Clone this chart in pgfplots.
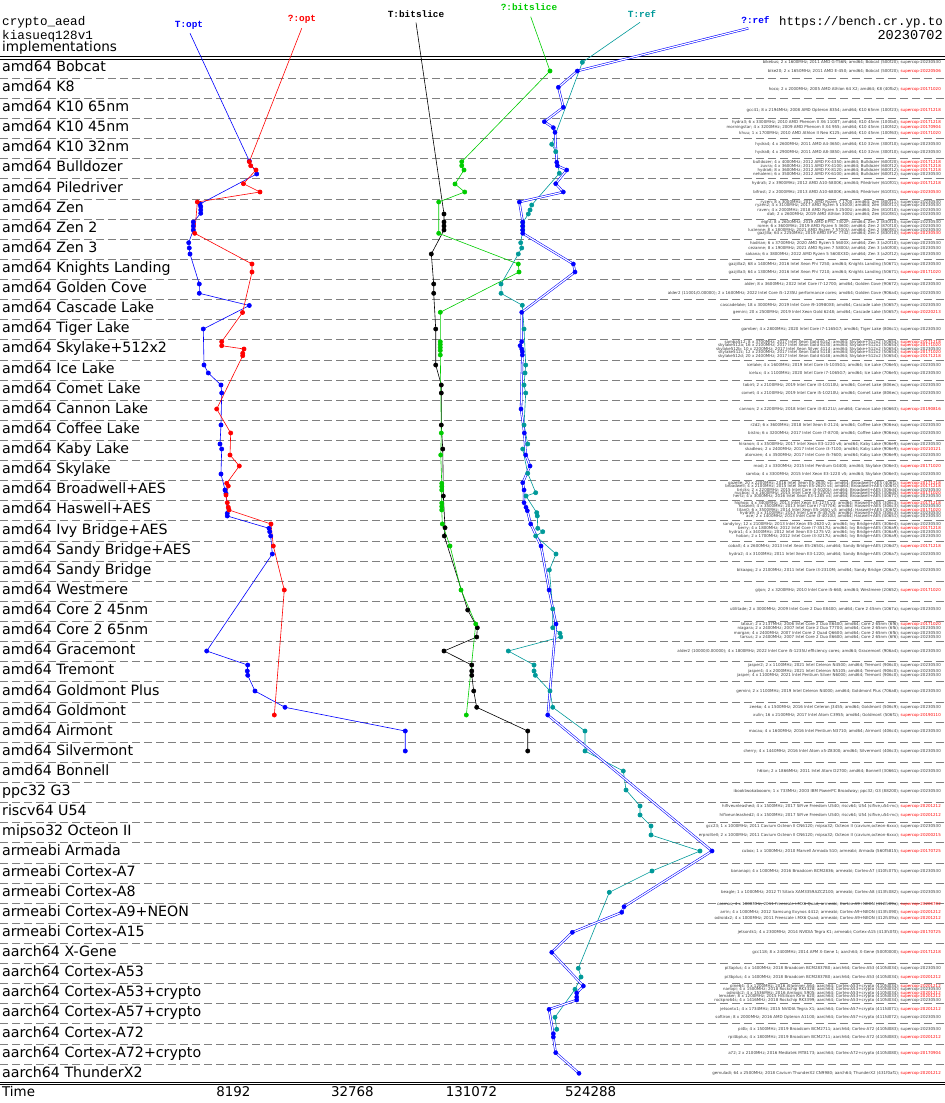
\documentclass[border=0pt]{standalone}
\usepackage{fontspec}
\setmainfont{DejaVu Sans}
\newfontfamily\cmono{Liberation Mono}
\usepackage{pgfplots}
\pgfplotsset{compat=1.18}
\definecolor{topt}{RGB}{0,0,255}
\definecolor{qopt}{RGB}{255,0,0}
\definecolor{tbit}{RGB}{0,0,0}
\definecolor{qbit}{RGB}{0,204,0}
\definecolor{tref}{RGB}{0,153,153}
\definecolor{qref}{RGB}{0,0,255}
\definecolor{dashgray}{RGB}{128,128,128}
\definecolor{mtext}{RGB}{60,60,60}
\newcommand\ml[4]{\node[anchor=base east,inner sep=0pt,font=\fontsize{4}{4}\selectfont,text=mtext] at (941,#1+1.4) {#2; \textcolor{#4}{#3}};}
\begin{document}
\begin{tikzpicture}
\begin{scope}[x=1pt,y=-1pt,shift={(0pt,1103pt)}]
% rules
\draw[black,line width=0.9pt] (0,56.7) -- (945,56.7);
\draw[black,line width=0.9pt] (0,59.2) -- (945,59.2);
\draw[black,line width=0.9pt] (0,1082.3) -- (945,1082.3);
\draw[black,line width=0.9pt] (0,1084.6) -- (945,1084.6);
\foreach \k in {0,...,49}{\draw[dashgray,line width=0.9pt,dash pattern=on 8pt off 4pt] (0,{78.3+20.12*\k}) -- (945,{78.3+20.12*\k});}
% row labels
\foreach \lab [count=\i] in {amd64 Bobcat,amd64 K8,amd64 K10 65nm,amd64 K10 45nm,amd64 K10 32nm,amd64 Bulldozer,amd64 Piledriver,amd64 Zen,amd64 Zen 2,amd64 Zen 3,amd64 Knights Landing,amd64 Golden Cove,amd64 Cascade Lake,amd64 Tiger Lake,amd64 Skylake+512x2,amd64 Ice Lake,amd64 Comet Lake,amd64 Cannon Lake,amd64 Coffee Lake,amd64 Kaby Lake,amd64 Skylake,amd64 Broadwell+AES,amd64 Haswell+AES,amd64 Ivy Bridge+AES,amd64 Sandy Bridge+AES,amd64 Sandy Bridge,amd64 Westmere,amd64 Core 2 45nm,amd64 Core 2 65nm,amd64 Gracemont,amd64 Tremont,amd64 Goldmont Plus,amd64 Goldmont,amd64 Airmont,amd64 Silvermont,amd64 Bonnell,ppc32 G3,riscv64 U54,mipso32 Octeon II,armeabi Armada,armeabi Cortex-A7,armeabi Cortex-A8,armeabi Cortex-A9+NEON,armeabi Cortex-A15,aarch64 X-Gene,aarch64 Cortex-A53,aarch64 Cortex-A53+crypto,aarch64 Cortex-A57+crypto,aarch64 Cortex-A72,aarch64 Cortex-A72+crypto,aarch64 ThunderX2}
{\node[anchor=base west,inner sep=0pt,font=\fontsize{14.2}{16}\selectfont] at (2,{71.3+20.12*(\i-1)}) {\lab};}
% header
\node[anchor=base west,inner sep=0pt,font=\cmono\fontsize{12.6}{13}\selectfont] at (2,26) {crypto\_aead};
\node[anchor=base west,inner sep=0pt,font=\cmono\fontsize{12.6}{13}\selectfont] at (2,39.5) {kiasueq128v1};
\node[anchor=base west,inner sep=0pt,font=\fontsize{13.6}{14}\selectfont] at (2,52) {implementations};
\node[anchor=base east,inner sep=0pt,font=\cmono\fontsize{12.4}{13}\selectfont] at (943,26) {https://bench.cr.yp.to};
\node[anchor=base east,inner sep=0pt,font=\cmono\fontsize{13.6}{14}\selectfont] at (943,39.5) {20230702};
\node[inner sep=0pt,font=\cmono\bfseries\fontsize{9.4}{10}\selectfont,text=topt] at (189,25.7) {T:opt};
\node[inner sep=0pt,font=\cmono\bfseries\fontsize{9.4}{10}\selectfont,text=qopt] at (302,19.3) {?:opt};
\node[inner sep=0pt,font=\cmono\bfseries\fontsize{9.4}{10}\selectfont,text=tbit] at (416,14) {T:bitslice};
\node[inner sep=0pt,font=\cmono\bfseries\fontsize{9.4}{10}\selectfont,text=qbit] at (529,7.3) {?:bitslice};
\node[inner sep=0pt,font=\cmono\bfseries\fontsize{9.4}{10}\selectfont,text=tref] at (642,14) {T:ref};
\node[inner sep=0pt,font=\cmono\bfseries\fontsize{9.4}{10}\selectfont,text=qref] at (755.5,20) {?:ref};
% x axis labels
\node[anchor=base west,inner sep=0pt,font=\fontsize{13.4}{14}\selectfont] at (2,1097) {Time};
\node[anchor=base,inner sep=0pt,font=\fontsize{13.4}{14}\selectfont] at (233.3,1097) {8192};
\node[anchor=base,inner sep=0pt,font=\fontsize{13.4}{14}\selectfont] at (352.4,1097) {32768};
\node[anchor=base,inner sep=0pt,font=\fontsize{13.4}{14}\selectfont] at (471.5,1097) {131072};
\node[anchor=base,inner sep=0pt,font=\fontsize{13.4}{14}\selectfont] at (590.6,1097) {524288};
% machine lines
\ml{62}{bikebus; 2 x 1600MHz; 2011 AMD G-T56N; amd64; Bobcat (500f20)}{supercop-20230530}{mtext}
\ml{71}{bike20; 2 x 1650MHz; 2011 AMD E-450; amd64; Bobcat (500f20)}{supercop-20220506}{qopt}
\ml{89}{hoco; 2 x 2000MHz; 2005 AMD Athlon 64 X2; amd64; K8 (40fb2)}{supercop-20171020}{qopt}
\ml{110}{gcc41; 8 x 2194MHz; 2008 AMD Opteron 8354; amd64; K10 65nm (100f23)}{supercop-20171218}{qopt}
\ml{122}{hydra3; 6 x 3300MHz; 2010 AMD Phenom II X6 1100T; amd64; K10 45nm (100fa0)}{supercop-20171218}{qopt}
\ml{127.5}{morningstar; 4 x 3200MHz; 2009 AMD Phenom II X4 955; amd64; K10 45nm (100f42)}{supercop-20170904}{qopt}
\ml{133}{khuu; 1 x 1700MHz; 2010 AMD Athlon II Neo K125; amd64; K10 45nm (100f63)}{supercop-20171020}{qopt}
\ml{144}{hydra4; 4 x 2600MHz; 2011 AMD A4-3650; amd64; K10 32nm (300f10)}{supercop-20230530}{mtext}
\ml{152}{hydra8; 4 x 2900MHz; 2011 AMD A8-3850; amd64; K10 32nm (300f10)}{supercop-20230530}{mtext}
\ml{162}{bulldozer; 4 x 4000MHz; 2012 AMD FX-4350; amd64; Bulldozer (600f20)}{supercop-20171218}{qopt}
\ml{166}{zuvra; 4 x 3600MHz; 2011 AMD FX-4100; amd64; Bulldozer (600f12)}{supercop-20171218}{qopt}
\ml{170}{hydra6; 8 x 3600MHz; 2012 AMD FX-8120; amd64; Bulldozer (600f12)}{supercop-20171218}{qopt}
\ml{174}{nehalemi; 6 x 3500MHz; 2012 AMD FX-6100; amd64; Bulldozer (600f12)}{supercop-20230530}{mtext}
\ml{183}{hydra5; 2 x 3900MHz; 2012 AMD A10-5800K; amd64; Piledriver (610f01)}{supercop-20171218}{qopt}
\ml{192}{bifrost; 2 x 2000MHz; 2013 AMD A10-6800K; amd64; Piledriver (610f31)}{supercop-20230530}{qopt}
\ml{202}{ryzen; 8 x 3000MHz; 2017 AMD Ryzen 7 1700; amd64; Zen (800f11)}{supercop-20230530}{mtext}
\ml{205.5}{ryzen2; 4 x 3100MHz; 2017 AMD Ryzen 5 1500X; amd64; Zen (800f11)}{supercop-20230530}{mtext}
\ml{210}{raven; 4 x 2000MHz; 2018 AMD Ryzen 5 2500U; amd64; Zen (810f10)}{supercop-20230530}{mtext}
\ml{214}{dali; 2 x 2600MHz; 2019 AMD Athlon 300U; amd64; Zen (810f81)}{supercop-20230530}{mtext}
\ml{222}{eight; 8 x 2600MHz; 2019 AMD EPYC 7302P; amd64; Zen 2 (830f10)}{supercop-20230530}{mtext}
\ml{226}{rome; 6 x 3600MHz; 2019 AMD Ryzen 5 3600; amd64; Zen 2 (870f10)}{supercop-20230530}{mtext}
\ml{230}{lucienne; 8 x 1800MHz; 2021 AMD Ryzen 7 5700U; amd64; Zen 2 (860f81)}{supercop-20230530}{mtext}
\ml{233.5}{gazjilla; 64 x 2250MHz; 2019 AMD EPYC 7742; amd64; Zen 2 (830f10)}{supercop-20230530}{qopt}
\ml{243}{hadrian; 6 x 3700MHz; 2020 AMD Ryzen 5 5600X; amd64; Zen 3 (a20f10)}{supercop-20230530}{mtext}
\ml{248}{cezanne; 8 x 1900MHz; 2021 AMD Ryzen 7 5800U; amd64; Zen 3 (a50f00)}{supercop-20230530}{mtext}
\ml{254}{sakana; 6 x 3800MHz; 2022 AMD Ryzen 5 5600X3D; amd64; Zen 3 (a20f12)}{supercop-20230530}{mtext}
\ml{264}{gazjilla2; 68 x 1400MHz; 2016 Intel Xeon Phi 7250; amd64; Knights Landing (50671)}{supercop-20230530}{mtext}
\ml{272}{gazjilla3; 64 x 1300MHz; 2016 Intel Xeon Phi 7210; amd64; Knights Landing (50671)}{supercop-20171020}{qopt}
\ml{284}{alder; 8 x 3600MHz; 2022 Intel Core i7-12700; amd64; Golden Cove (90672)}{supercop-20230530}{mtext}
\ml{293}{alder2 (11001/0.00000); 2 x 1600MHz; 2022 Intel Core i5-1235U performance cores; amd64; Golden Cove (906a4)}{supercop-20230530}{mtext}
\ml{305}{cascadelake; 18 x 3000MHz; 2019 Intel Core i9-10980XE; amd64; Cascade Lake (50657)}{supercop-20230530}{mtext}
\ml{312}{gemini; 20 x 2500MHz; 2019 Intel Xeon Gold 6248; amd64; Cascade Lake (50657)}{supercop-20220213}{qopt}
\ml{329}{gamber; 4 x 2800MHz; 2020 Intel Core i7-1165G7; amd64; Tiger Lake (806c1)}{supercop-20230530}{mtext}
\ml{341.7}{samba512; 8 x 3700MHz; 2017 Intel Xeon Gold 6142; amd64; Skylake+512x2 (50654)}{supercop-20171218}{qopt}
\ml{345.5}{skylake512a; 16 x 2100MHz; 2017 Intel Xeon Gold 6130; amd64; Skylake+512x2 (50654)}{supercop-20171020}{qopt}
\ml{349}{skylake512b; 10 x 2200MHz; 2017 Intel Xeon Silver 4114; amd64; Skylake+512x2 (50654)}{supercop-20230530}{mtext}
\ml{352.3}{skylake512c; 12 x 2300MHz; 2017 Intel Xeon Gold 5118; amd64; Skylake+512x2 (50654)}{supercop-20171020}{qopt}
\ml{355.7}{skylake512d; 20 x 2400MHz; 2017 Intel Xeon Gold 6148; amd64; Skylake+512x2 (50654)}{supercop-20171218}{qopt}
\ml{365}{icelake; 4 x 1600MHz; 2019 Intel Core i5-1035G1; amd64; Ice Lake (706e5)}{supercop-20230530}{mtext}
\ml{373}{icelux; 4 x 1100MHz; 2020 Intel Core i7-1065G7; amd64; Ice Lake (706e5)}{supercop-20230530}{mtext}
\ml{385}{tobirt; 2 x 2100MHz; 2019 Intel Core i3-10110U; amd64; Comet Lake (806ec)}{supercop-20230530}{mtext}
\ml{393}{comet; 4 x 2100MHz; 2019 Intel Core i5-10210U; amd64; Comet Lake (806ec)}{supercop-20230530}{mtext}
\ml{409}{cannon; 2 x 2200MHz; 2018 Intel Core i3-8121U; amd64; Cannon Lake (60663)}{supercop-20190816}{qopt}
\ml{425}{r2d2; 6 x 3600MHz; 2018 Intel Xeon E-2124; amd64; Coffee Lake (906ea)}{supercop-20230530}{mtext}
\ml{433}{bistro; 6 x 3200MHz; 2017 Intel Core i7-8700; amd64; Coffee Lake (906ea)}{supercop-20230530}{mtext}
\ml{444}{hiranon; 4 x 3500MHz; 2017 Intel Xeon E3-1220 v6; amd64; Kaby Lake (906e9)}{supercop-20230530}{mtext}
\ml{449}{skadleos; 2 x 2400MHz; 2017 Intel Core i3-7100; amd64; Kaby Lake (906e9)}{supercop-20210121}{qopt}
\ml{455}{atomzen; 4 x 3500MHz; 2017 Intel Core i5-7600; amd64; Kaby Lake (906e9)}{supercop-20230530}{mtext}
\ml{466}{mod; 2 x 3300MHz; 2015 Intel Pentium G4400; amd64; Skylake (506e3)}{supercop-20171020}{qopt}
\ml{474}{samba; 4 x 3300MHz; 2015 Intel Xeon E3-1220 v5; amd64; Skylake (506e3)}{supercop-20230530}{mtext}
\ml{483.3}{gazelle; 20 x 2200MHz; 2016 Intel Xeon E5-2630 v4; amd64; Broadwell+AES (406f1)}{supercop-20171218}{qopt}
\ml{486.6}{broadwell; 4 x 2100MHz; 2015 Intel Xeon E5-2620 v4; amd64; Broadwell+AES (406f1)}{supercop-20171218}{qopt}
\ml{490}{bricks; 2 x 2200MHz; 2015 Intel Core i3-5020U; amd64; Broadwell+AES (306d4)}{supercop-20230530}{mtext}
\ml{493.3}{nucbox; 4 x 1600MHz; 2015 Intel Core i5-5250U; amd64; Broadwell+AES (306d4)}{supercop-20171020}{qopt}
\ml{496.6}{hertz; 4 x 3000MHz; 2016 Intel Xeon E3-1285 v4; amd64; Broadwell+AES (40671)}{supercop-20230530}{mtext}
\ml{503}{hiphop; 4 x 3400MHz; 2013 Intel Xeon E3-1275 v3; amd64; Haswell+AES (306c3)}{supercop-20171218}{qopt}
\ml{506.6}{haswell; 4 x 3500MHz; 2013 Intel Core i7-4770K; amd64; Haswell+AES (306c3)}{supercop-20230530}{mtext}
\ml{510}{titan0; 6 x 3500MHz; 2014 Intel Xeon E5-1650 v3; amd64; Haswell+AES (306f2)}{supercop-20171020}{qopt}
\ml{513.3}{hydra9; 4 x 3100MHz; 2013 Intel Core i5-4570S; amd64; Haswell+AES (306c3)}{supercop-20230530}{mtext}
\ml{516.6}{ace; 2 x 1400MHz; 2013 Intel Core i3-4010U; amd64; Haswell+AES (40651)}{supercop-20230530}{mtext}
\ml{524}{sandyivy; 12 x 2100MHz; 2013 Intel Xeon E5-2620 v2; amd64; Ivy Bridge+AES (306e4)}{supercop-20230530}{mtext}
\ml{528}{berry; 4 x 1800MHz; 2012 Intel Core i7-3517U; amd64; Ivy Bridge+AES (306a9)}{supercop-20171218}{qopt}
\ml{532}{hydra1; 4 x 3400MHz; 2012 Intel Xeon E3-1275 V2; amd64; Ivy Bridge+AES (306a9)}{supercop-20230530}{mtext}
\ml{536}{hoban; 2 x 1700MHz; 2012 Intel Core i3-3217U; amd64; Ivy Bridge+AES (306a9)}{supercop-20230530}{mtext}
\ml{546}{cobalt; 4 x 2600MHz; 2013 Intel Xeon E5-2650L; amd64; Sandy Bridge+AES (206d7)}{supercop-20171218}{qopt}
\ml{554}{hydra2; 4 x 3100MHz; 2011 Intel Xeon E3-1220; amd64; Sandy Bridge+AES (206a7)}{supercop-20230530}{mtext}
\ml{570}{bikaapq; 2 x 2100MHz; 2011 Intel Core i3-2310M; amd64; Sandy Bridge (206a7)}{supercop-20230530}{mtext}
\ml{590}{gijon; 2 x 3200MHz; 2010 Intel Core i5-660; amd64; Westmere (20652)}{supercop-20171020}{qopt}
\ml{609}{utilitade; 2 x 3000MHz; 2009 Intel Core 2 Duo E8400; amd64; Core 2 45nm (1067a)}{supercop-20230530}{mtext}
\ml{624}{latour; 2 x 2137MHz; 2006 Intel Core 2 Duo E6400; amd64; Core 2 65nm (6f6)}{supercop-20171020}{qopt}
\ml{628}{niagara; 2 x 2400MHz; 2007 Intel Core 2 Duo T7700; amd64; Core 2 65nm (6fb)}{supercop-20230530}{mtext}
\ml{633}{morgan; 4 x 2400MHz; 2007 Intel Core 2 Quad Q6600; amd64; Core 2 65nm (6fb)}{supercop-20230530}{mtext}
\ml{637}{tarsus; 2 x 2400MHz; 2007 Intel Core 2 Duo E6600; amd64; Core 2 65nm (6f6)}{supercop-20230530}{mtext}
\ml{651}{alder2 (10000/0.00000); 4 x 1800MHz; 2022 Intel Core i5-1235U efficiency cores; amd64; Gracemont (906a4)}{supercop-20230530}{mtext}
\ml{665}{jasper2; 2 x 1100MHz; 2021 Intel Celeron N4500; amd64; Tremont (906c0)}{supercop-20230530}{mtext}
\ml{671}{jasper4; 4 x 2000MHz; 2021 Intel Celeron N5105; amd64; Tremont (906c0)}{supercop-20230530}{mtext}
\ml{675.3}{jasper; 4 x 1100MHz; 2021 Intel Pentium Silver N6000; amd64; Tremont (906c0)}{supercop-20230530}{mtext}
\ml{691}{gemini; 2 x 1100MHz; 2019 Intel Celeron N4000; amd64; Goldmont Plus (706a8)}{supercop-20230530}{mtext}
\ml{707}{zeeko; 4 x 1500MHz; 2016 Intel Celeron J3455; amd64; Goldmont (506c9)}{supercop-20230530}{mtext}
\ml{715}{xulin; 16 x 2100MHz; 2017 Intel Atom C3955; amd64; Goldmont (506f1)}{supercop-20190110}{qopt}
\ml{731}{macau; 4 x 1600MHz; 2016 Intel Pentium N3710; amd64; Airmont (406c4)}{supercop-20230530}{mtext}
\ml{751}{cherry; 4 x 1440MHz; 2016 Intel Atom x5-Z8300; amd64; Silvermont (406c3)}{supercop-20230530}{mtext}
\ml{771}{h6ion; 2 x 1866MHz; 2011 Intel Atom D2700; amd64; Bonnell (30661)}{supercop-20230530}{mtext}
\ml{791}{ibooktwokabooom; 1 x 733MHz; 2003 IBM PowerPC Broadway; ppc32; G3 (88200)}{supercop-20230530}{mtext}
\ml{806}{hifiveunleashed; 4 x 1500MHz; 2017 SiFive Freedom U540; riscv64; U54 (sifive,u54-mc)}{supercop-20201212}{qopt}
\ml{815}{hifiveunleashed2; 4 x 1500MHz; 2017 SiFive Freedom U540; riscv64; U54 (sifive,u54-mc)}{supercop-20201212}{qopt}
\ml{826}{gcc23; 1 x 1000MHz; 2011 Cavium Octeon II CN6120; mipso32; Octeon II (cavium,octeon-6xxx)}{supercop-20230530}{mtext}
\ml{835}{erproliteII; 2 x 1000MHz; 2011 Cavium Octeon II CN6120; mipso32; Octeon II (cavium,octeon-6xxx)}{supercop-20200215}{qopt}
\ml{851}{cubox; 1 x 1000MHz; 2010 Marvell Armada 510; armeabi; Armada (560f5815)}{supercop-20170725}{qopt}
\ml{871}{bananapi; 4 x 1000MHz; 2016 Broadcom BCM2836; armeabi; Cortex-A7 (410fc075)}{supercop-20230530}{mtext}
\ml{892}{beagle; 1 x 1000MHz; 2012 TI Sitara XAM3359AZCZ100; armeabi; Cortex-A8 (413fc082)}{supercop-20230530}{mtext}
\ml{904}{cosmos; 4 x 1000MHz; 2011 Freescale i.MX6 Quad; armeabi; Cortex-A9+NEON (412fc09a)}{supercop-20200702}{qopt}
\ml{912}{arrin; 4 x 1000MHz; 2012 Samsung Exynos 4412; armeabi; Cortex-A9+NEON (413fc090)}{supercop-20201212}{qopt}
\ml{918}{odroidx2; 4 x 1000MHz; 2011 Freescale i.MX6 Quad; armeabi; Cortex-A9+NEON (412fc09a)}{supercop-20201212}{qopt}
\ml{932}{jetsontk1; 4 x 2300MHz; 2014 NVIDIA Tegra K1; armeabi; Cortex-A15 (413fc0f3)}{supercop-20170725}{qopt}
\ml{952}{gcc118; 8 x 2400MHz; 2014 APM X-Gene 1; aarch64; X-Gene (500f0000)}{supercop-20171218}{qopt}
\ml{968}{pi3aplus; 4 x 1400MHz; 2018 Broadcom BCM2837B0; aarch64; Cortex-A53 (410fd034)}{supercop-20230530}{mtext}
\ml{977}{pi3bplus; 4 x 1400MHz; 2018 Broadcom BCM2837B0; aarch64; Cortex-A53 (410fd034)}{supercop-20201212}{qopt}
\ml{986}{pine64; 4 x 1200MHz; 2016 Allwinner A64; aarch64; Cortex-A53+crypto (410fd034)}{supercop-20201212}{qopt}
\ml{989.5}{nanopi; 4 x 1500MHz; 2018 Rockchip RK3328; aarch64; Cortex-A53+crypto (410fd034)}{supercop-20230530}{mtext}
\ml{993}{odroidc2; 4 x 1536MHz; 2016 Amlogic S905; aarch64; Cortex-A53+crypto (410fd034)}{supercop-20201212}{qopt}
\ml{996.5}{lemaker; 8 x 1200MHz; 2015 HiSilicon Kirin 620; aarch64; Cortex-A53+crypto (410fd033)}{supercop-20201212}{qopt}
\ml{1000}{rockpro64s; 4 x 1416MHz; 2018 Rockchip RK3399; aarch64; Cortex-A53+crypto (410fd034)}{supercop-20230530}{mtext}
\ml{1009}{jetsontx1; 4 x 1734MHz; 2015 NVIDIA Tegra X1; aarch64; Cortex-A57+crypto (411fd071)}{supercop-20201212}{qopt}
\ml{1017}{softiron; 8 x 2000MHz; 2016 AMD Opteron A1100; aarch64; Cortex-A57+crypto (411fd072)}{supercop-20230530}{mtext}
\ml{1029}{pi4b; 4 x 1500MHz; 2019 Broadcom BCM2711; aarch64; Cortex-A72 (410fd083)}{supercop-20230530}{mtext}
\ml{1037}{rpi4bplus; 4 x 1800MHz; 2019 Broadcom BCM2711; aarch64; Cortex-A72 (410fd083)}{supercop-20201212}{qopt}
\ml{1053}{a72; 2 x 2100MHz; 2016 Mediatek MT8173; aarch64; Cortex-A72+crypto (410fd080)}{supercop-20170904}{qopt}
\ml{1073}{gemuladi; 64 x 2500MHz; 2018 Cavium ThunderX2 CN9980; aarch64; ThunderX2 (431f0af1)}{supercop-20201212}{qopt}
\end{scope}
\begin{axis}[at={(0pt,0pt)},anchor=south west,scale only axis,width=945pt,height=1103pt,
  xmin=9.0823,xmax=24.951,ymin=0,ymax=1103,y dir=reverse,axis lines=none,ticks=none,clip=false]
% T:opt (x = log2 cycles)
\addplot[topt,line width=0.6pt,no marks] coordinates {(12.273,33.3) (13.269,161)};
\addplot[topt,line width=0.6pt,line join=round,mark=*,mark size=2.1pt,mark options={fill=topt,draw=topt}] coordinates {
(13.269,161) (13.393,174) (12.441,204) (12.453,206.7) (12.453,210) (12.453,213.3) (12.328,222) (12.328,226) (12.328,230) (12.251,242.7) (12.261,248) (12.273,254) (12.429,284) (12.429,293.3) (13.269,305.5) (12.496,329) (12.508,365) (12.580,373) (12.793,385) (12.805,393) (12.793,425) (12.777,444) (12.805,449) (12.793,474) (12.861,490) (12.877,493.3) (12.899,513.3) (12.899,516) (13.600,528.3) (13.611,531.7) (13.628,536) (13.655,554) (12.553,651) (13.242,665) (13.235,671) (13.242,675.3) (13.364,691) (13.868,707.3) (15.888,731) (15.888,751)};
% ?:opt
\addplot[qopt,line width=0.6pt,no marks] coordinates {(14.149,28.3) (13.269,161.7)};
\addplot[qopt,line width=0.6pt,line join=round,mark=*,mark size=2.1pt,mark options={fill=qopt,draw=qopt}] coordinates {
(13.269,161.7) (13.292,165.7) (13.381,170) (13.170,183.7) (13.448,192) (12.396,202) (12.352,233.3) (13.314,264) (13.314,272) (13.155,312.5) (12.805,341.7) (12.805,345.7) (13.180,349) (13.158,353.3) (13.158,355.7) (12.721,409) (12.956,433) (12.945,455) (13.101,466) (12.889,483.3) (12.916,486) (12.877,495) (12.899,502.7) (12.916,507.3) (12.928,510) (13.633,524) (13.672,546) (13.856,590) (13.689,715)};
% T:bitslice
\addplot[tbit,line width=0.6pt,no marks] coordinates {(16.068,22.7) (16.538,214)};
\addplot[tbit,line width=0.6pt,line join=round,mark=*,mark size=2.1pt,mark options={fill=tbit,draw=tbit}] coordinates {
(16.538,214) (16.538,222) (16.538,226) (16.538,230) (16.325,254) (16.365,284) (16.365,293.3) (16.399,329) (16.399,365) (16.493,385) (16.493,393) (16.493,425) (16.517,449) (16.527,496) (16.555,527.7) (16.543,536) (16.936,610) (17.098,627.7) (17.087,637) (16.538,651) (17.004,665) (17.004,671) (17.004,675.3) (17.037,691) (17.087,707.3) (17.944,731) (17.944,751)};
% ?:bitslice
\addplot[qbit,line width=0.6pt,no marks] coordinates {(17.994,16.7) (18.318,71)};
\addplot[qbit,line width=0.6pt,line join=round,mark=*,mark size=2.1pt,mark options={fill=qbit,draw=qbit}] coordinates {
(18.318,71) (16.836,161.7) (16.836,165.7) (16.874,170) (16.723,184) (16.886,192) (16.449,202) (16.449,233.3) (17.786,264) (17.798,272) (16.476,312.3) (16.476,341.7) (16.476,344.5) (16.476,347.5) (16.476,350.5) (16.476,355) (16.493,433) (16.483,455) (16.500,483.3) (16.500,486.5) (16.500,490) (16.500,503) (16.500,506.5) (16.500,510) (16.510,524) (16.639,546) (16.824,590) (17.071,624) (16.913,715)};
% T:ref
\addplot[tref,line width=0.6pt,no marks] coordinates {(19.830,22.3) (18.861,62.3)};
\addplot[tref,line width=0.6pt,line join=round,mark=*,mark size=2.1pt,mark options={fill=tref,draw=tref}] coordinates {
(18.861,62.3) (18.347,144.3) (18.414,151.7) (18.475,173.3) (18.011,205) (17.983,210) (17.954,214) (17.860,222.7) (17.860,226.3) (17.860,230) (17.826,242.7) (17.843,248) (17.786,254) (17.496,284) (17.496,293.3) (17.853,305.3) (17.882,329) (17.910,365) (17.899,373) (17.882,385) (17.910,393) (17.882,425) (17.944,444) (17.860,449) (17.944,473.3) (18.078,492.7) (17.915,496) (18.095,512.7) (18.105,516) (18.112,528.3) (18.196,531.7) (18.078,536) (18.419,554) (18.307,570) (18.364,609) (18.364,627.7) (18.486,633.3) (18.498,637) (17.618,651) (18.050,665) (18.050,671) (18.072,675.3) (18.318,691) (18.364,707.3) (18.906,731) (18.906,751) (19.549,771) (19.595,790) (19.830,806) (19.830,815) (20.014,826) (20.014,835) (20.837,851) (20.031,871) (19.314,892.3) (18.794,968.3) (18.839,977) (18.738,989.3) (18.402,1017.3) (18.431,1029.3)};
% ?:ref (double line)
\addplot[qref,line width=0.55pt,double=white,double distance=1.2pt,no marks] coordinates {(21.648,28.3) (18.777,71)};
\addplot[qref,line width=0.55pt,double=white,double distance=1.2pt,line join=round,no marks] coordinates {
(18.777,71) (18.458,87.3) (18.542,107.3) (18.223,121.7) (18.374,127.7) (18.402,132.3) (18.431,162.3) (18.441,165.7) (18.599,170) (18.414,183.7) (18.542,192) (17.803,202) (17.860,222) (17.860,226) (17.860,230) (17.860,233.3) (18.710,264) (18.738,272) (17.843,312.3) (17.843,341.7) (17.815,345.7) (17.843,349) (17.853,351.7) (17.853,355) (17.831,409) (17.887,433) (17.910,455) (17.983,466) (17.860,482.7) (17.882,490) (17.882,502.7) (17.915,507.3) (17.937,510.7) (17.994,524) (18.167,546) (18.302,590) (18.419,624) (18.280,715) (21.039,851) (19.561,906.7) (19.522,912.3) (18.693,932.3) (18.347,952.3) (18.878,986) (18.767,993) (18.767,997) (18.767,1000) (18.302,1009.3) (18.374,1033.7) (18.374,1037) (18.414,1052.7) (18.805,1073.3)};
\addplot[qref,only marks,mark=*,mark size=2.1pt,mark options={fill=qref,draw=qref}] coordinates {
(18.777,71) (18.458,87.3) (18.542,107.3) (18.223,121.7) (18.374,127.7) (18.402,132.3) (18.431,162.3) (18.441,165.7) (18.599,170) (18.414,183.7) (18.542,192) (17.803,202) (17.860,222) (17.860,226) (17.860,230) (17.860,233.3) (18.710,264) (18.738,272) (17.843,312.3) (17.843,341.7) (17.815,345.7) (17.843,349) (17.853,351.7) (17.853,355) (17.831,409) (17.887,433) (17.910,455) (17.983,466) (17.860,482.7) (17.882,490) (17.882,502.7) (17.915,507.3) (17.937,510.7) (17.994,524) (18.167,546) (18.302,590) (18.419,624) (18.280,715) (21.039,851) (19.561,906.7) (19.522,912.3) (18.693,932.3) (18.347,952.3) (18.878,986) (18.767,993) (18.767,997) (18.767,1000) (18.302,1009.3) (18.374,1033.7) (18.374,1037) (18.414,1052.7) (18.805,1073.3)};
\end{axis}
\pgfresetboundingbox
\path (0,0) rectangle (945pt,1103pt);
\end{tikzpicture}
\end{document}
